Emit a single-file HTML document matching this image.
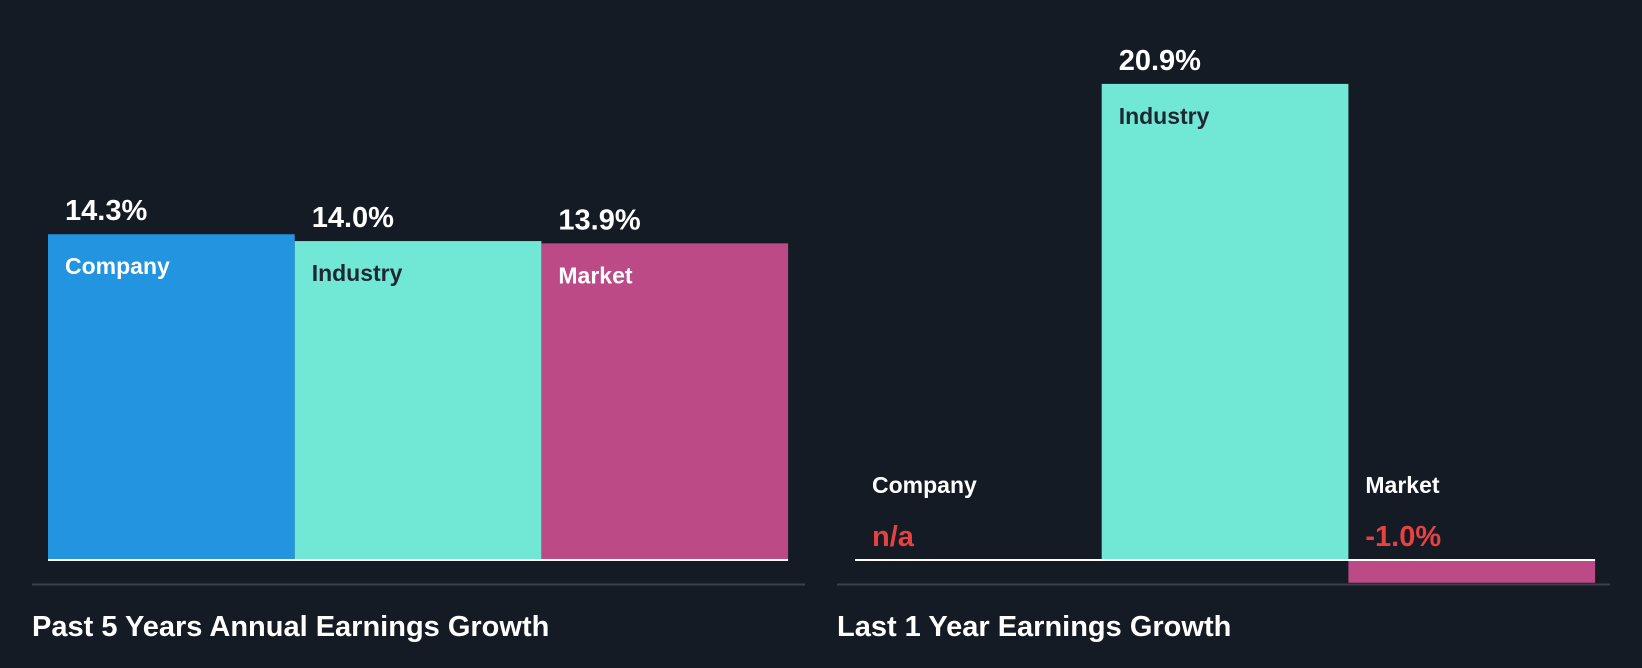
<!DOCTYPE html>
<html><head><meta charset="utf-8"><style>
html,body{margin:0;padding:0;background:#151b24;}
svg{display:block;font-family:"Liberation Sans",sans-serif;font-weight:bold;}
</style></head><body>
<svg id="c" width="1642" height="668" viewBox="0 0 1642 668">
<rect width="1642" height="668" fill="#151b24"/>
<line x1="32" y1="584.5" x2="805" y2="584.5" stroke="#3c414a" stroke-width="2"/>
<line x1="837" y1="584.5" x2="1610" y2="584.5" stroke="#3c414a" stroke-width="2"/>
<text x="32" y="636" fill="#fff" font-size="29">Past 5 Years Annual Earnings Growth</text>
<text x="837" y="636" fill="#fff" font-size="29">Last 1 Year Earnings Growth</text>
<g id="bars"></g>
</svg>
<script>
const categories = ["Company","Industry","Market"];
const fiveYearValues = [14.3, 14.0, 13.9];
const oneYearValues = [null, 20.9, -1.0];
const colors = ["#2394df","#71e8d6","#bb4a87"];
const labelColors = ["#ffffff","#1f2733","#ffffff"];
const NS = "http://www.w3.org/2000/svg";
const g = document.getElementById("bars");
const baseY = 560, pxPer = 22.78, barW = 246.7;
function y(v){ return baseY - v*pxPer; }
function mk(tag, attrs){ const e=document.createElementNS(NS,tag); for(const k in attrs) e.setAttribute(k,attrs[k]); g.appendChild(e); return e; }
function fmt(v){ return v.toFixed(1)+"%"; }
function drawChart(values, x0, key){
  values.forEach((v,i)=>{
    const x = x0 + i*barW;
    if(v===null){
      const l = mk("text",{x:x+17,y:baseY-67,fill:"#fff","font-size":23});
      l.textContent = categories[i];
      
      
      const t = mk("text",{x:x+17,y:baseY-14,fill:"#e84142","font-size":29});
      t.textContent = "n/a";
      
      
      return;
    }
    const top = Math.min(y(v), baseY), h = Math.abs(y(v)-baseY);
    const r = mk("rect",{x:x,y:top,width:barW,height:h,fill:colors[i]});
    
    
    if(v>=0){
      const t = mk("text",{x:x+17,y:y(v)-14,fill:"#fff","font-size":29});
      t.textContent = fmt(v);
      
      
      const l = mk("text",{x:x+17,y:y(v)+40,fill:labelColors[i],"font-size":23});
      l.textContent = categories[i];
      
      
    } else {
      const l = mk("text",{x:x+17,y:baseY-67,fill:"#fff","font-size":23});
      l.textContent = categories[i];
      
      
      const t = mk("text",{x:x+17,y:baseY-14,fill:"#e84142","font-size":29});
      t.textContent = fmt(v);
      
      
    }
  });
  const b = mk("line",{x1:x0,y1:baseY,x2:x0+barW*values.length,y2:baseY,stroke:"#fff","stroke-width":2});
  
  
}
drawChart(fiveYearValues, 48, "five-year");
drawChart(oneYearValues, 855, "one-year");
</script>
</body></html>
